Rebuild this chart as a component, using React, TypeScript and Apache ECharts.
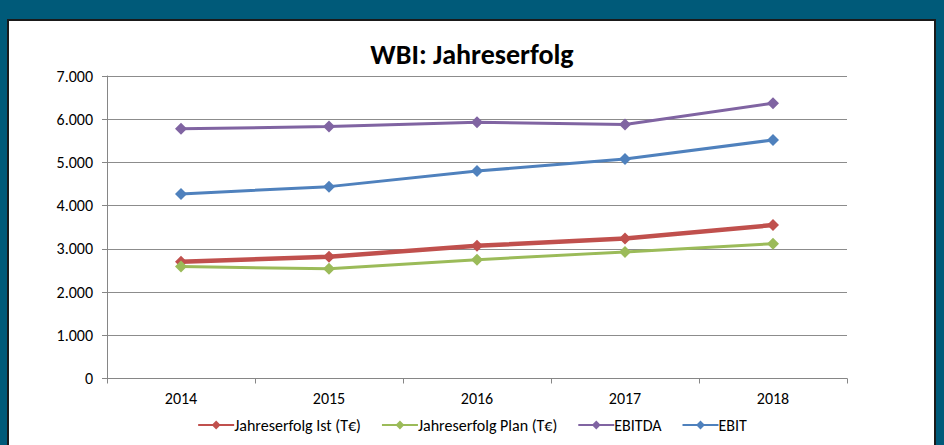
import React, { useEffect, useRef } from "react";
import * as echarts from "echarts";

const categories = ["2014", "2015", "2016", "2017", "2018"];
const istValues = [2700, 2820, 3070, 3240, 3550];
const planValues = [2590, 2540, 2750, 2930, 3120];
const ebitdaValues = [5780, 5830, 5930, 5880, 6370];
const ebitValues = [4270, 4440, 4800, 5080, 5520];
const seriesNames = ["Jahreserfolg Ist (T€)", "Jahreserfolg Plan (T€)", "EBITDA", "EBIT"];
const titleText = "WBI: Jahreserfolg";

const FONT = "Carlito, Lato, 'Open Sans', sans-serif";

function fmt(v: number): string {
  return String(Math.round(v)).replace(/\B(?=(\d{3})+(?!\d))/g, ".");
}

export default function App() {
  const ref = useRef<HTMLDivElement>(null);
  useEffect(() => {
    if (!ref.current) return;
    const chart = echarts.init(ref.current, undefined, { renderer: "svg" });
    const mk = (name: string, data: number[], color: string, width: number) => ({
      name,
      type: "line",
      data,
      symbol: "diamond",
      symbolSize: 12,
      lineStyle: { color, width },
      itemStyle: { color },
      z: 3,
    });
    chart.setOption({
      animation: false,
      backgroundColor: "#005a79",
      textStyle: { fontFamily: FONT },
      graphic: [
        {
          type: "rect",
          shape: { x: 8, y: 20, width: 927, height: 440 },
          style: { fill: "#ffffff", stroke: "#1a1a1a", lineWidth: 2 },
          z: -10,
          silent: true,
        },
      ],
      title: {
        text: titleText,
        left: "center",
        top: 35,
        textStyle: { fontFamily: FONT, fontSize: 28, fontWeight: "bold", color: "#000000" },
      },
      grid: { left: 107, right: 97, top: 76, bottom: 66.5 },
      legend: {
        top: 412,
        left: "center",
        itemWidth: 36,
        itemHeight: 11,
        itemGap: 20,
        data: seriesNames,
        textStyle: { fontFamily: FONT, fontSize: 16, color: "#000000", padding: [0, 0, 0, -5] },
      },
      xAxis: {
        type: "category",
        data: categories,
        boundaryGap: true,
        axisLine: { lineStyle: { color: "#868686", width: 1 } },
        axisTick: { show: true, alignWithLabel: false, length: 5, lineStyle: { color: "#868686" } },
        axisLabel: { color: "#000000", fontSize: 16, fontFamily: FONT, margin: 12 },
      },
      yAxis: {
        type: "value",
        min: 0,
        max: 7000,
        interval: 1000,
        axisLine: { show: true, lineStyle: { color: "#868686", width: 1 } },
        axisTick: { show: true, length: 5, lineStyle: { color: "#868686" } },
        splitLine: { show: true, lineStyle: { color: "#8c8c8c", width: 1 } },
        axisLabel: { color: "#000000", fontSize: 16, fontFamily: FONT, margin: 14, formatter: (v: number) => fmt(v) },
      },
      series: [
        mk(seriesNames[0], istValues, "#c0504d", 4.5),
        mk(seriesNames[1], planValues, "#9bbb59", 3),
        mk(seriesNames[2], ebitdaValues, "#8064a2", 3),
        mk(seriesNames[3], ebitValues, "#4f81bd", 3),
      ],
    });
    return () => chart.dispose();
  }, []);
  return (
    <div style={{ position: "fixed", left: 0, top: 0, width: 944, height: 445 }}>
      <div ref={ref} style={{ width: 944, height: 445 }} />
    </div>
  );
}
